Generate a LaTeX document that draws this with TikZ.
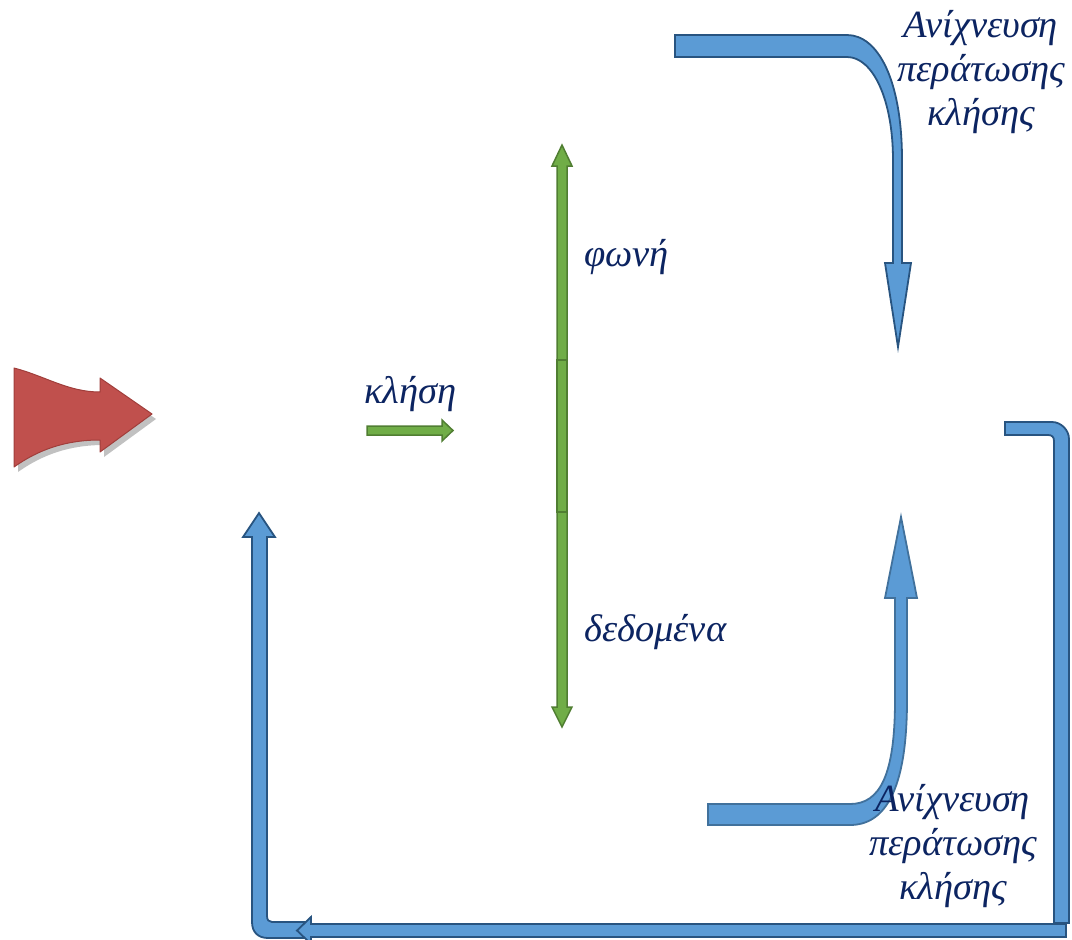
\documentclass[tikz,border=0pt]{standalone}
\usepackage{fontspec}
\setmainfont{Liberation Serif}
\usetikzlibrary{calc}
\definecolor{labelblue}{RGB}{12,36,97}
\definecolor{bluefill}{RGB}{91,155,213}
\definecolor{blueline}{RGB}{40,84,128}
\definecolor{bluelight}{RGB}{65,113,156}
\definecolor{greenfill}{RGB}{112,173,71}
\definecolor{greenline}{RGB}{80,126,50}
\definecolor{redfill}{RGB}{192,80,77}
\definecolor{redline}{RGB}{160,62,59}
\tikzset{
  lbl/.style={font=\fontsize{38.5}{44}\selectfont\itshape, text=labelblue, inner sep=0pt},
  bluearrow/.style={fill=bluefill, draw=blueline, line width=1.8pt, line join=miter},
  bluearrowlight/.style={fill=bluefill, draw=bluelight, line width=1.8pt, line join=miter},
  greenarrow/.style={fill=greenfill, draw=greenline, line width=1.5pt, line join=miter},
  redarrow/.style={fill=redfill, draw=redline, line width=1pt, line join=round},
  shade/.style={fill=black!30, draw=none, opacity=0.8}
}
\begin{document}
\begin{tikzpicture}[x=1pt, y=-1pt]
\useasboundingbox (0,0) rectangle (1072,940);

% incoming call: red curved arrow with its drop shadow
\begin{scope}[shift={(4,5)}]
  \path[shade] (14,368) .. controls (45,376) and (68,392) .. (100,392) -- (100,378) -- (152,414)
    -- (100,452) -- (100,440) .. controls (65,440) and (38,450) .. (14,467) -- cycle;
\end{scope}
\path[redarrow] (14,368) .. controls (45,376) and (68,392) .. (100,392) -- (100,378) -- (152,414)
  -- (100,452) -- (100,440) .. controls (65,440) and (38,450) .. (14,467) -- cycle;

% call setup: small green arrow
\path[greenarrow] (367,426) -- (442,426) -- (442,420) -- (453,430.5) -- (442,441) -- (442,435)
  -- (367,435) -- cycle;

% voice / data: vertical green double arrow built from three pieces
\path[greenarrow] (557,360) -- (557,166) -- (552,166) -- (562,145) -- (572,166) -- (567,166)
  -- (567,360) -- cycle;
\path[greenarrow] (557,360) rectangle (567,512);
\path[greenarrow] (557,512) -- (557,707) -- (552,707) -- (562,727) -- (572,707) -- (567,707)
  -- (567,512) -- cycle;

% call-end detection, top: bent arrow turning down
\path[bluearrow] (675,35) -- (847,35) .. controls (878,35) and (902,80) .. (902,160)
  -- (902,263) -- (911,263) -- (898,347) -- (885,263) -- (893,263) -- (893,160)
  .. controls (893,100) and (873,57) .. (847,57) -- (675,57) -- cycle;

% call-end detection, bottom: bent arrow turning up
\path[bluearrowlight] (708,804) -- (850,804) .. controls (880,804) and (895,775) .. (895,700)
  -- (895,598) -- (885,598) -- (901,517) -- (917,598) -- (907,598) -- (907,700)
  .. controls (907,792) and (884,825) .. (850,825) -- (708,825) -- cycle;

% return path: left L-shaped arrow going up
\path[bluearrow] (310,922) -- (272,922) .. controls (269,922) and (267,920) .. (267,916)
  -- (267,537) -- (275,537) -- (259,513) -- (243,537) -- (252,537) -- (252,922)
  .. controls (252,932) and (258,938) .. (268,938) -- (310,938) -- cycle;

% return path: right bracket going down
\path[bluearrow] (1005,422) -- (1052,422) .. controls (1061,422) and (1069,430) .. (1069,439)
  -- (1069,923) -- (1054,923) -- (1054,441) .. controls (1054,437) and (1052,435) .. (1048,435)
  -- (1005,435) -- cycle;

% return path: bottom arrow going left
\path[bluearrow] (1066,924) -- (311,924) -- (311,917) -- (297,930.5) -- (311,944) -- (311,937)
  -- (1066,937) -- cycle;

% labels
\node[lbl, anchor=base west] (call) at (364,403) {κλήση};
\node[lbl, anchor=base west] (voice) at (584,266) {φωνή};
\node[lbl, anchor=base west] (data) at (584,641) {δεδομένα};
\node[lbl, anchor=north, align=center] (endtop) at (981,10) {Ανίχνευση\\περάτωσης\\κλήσης};
\node[lbl, anchor=north, align=center] (endbot) at (953,784) {Ανίχνευση\\περάτωσης\\κλήσης};
\end{tikzpicture}
\end{document}
